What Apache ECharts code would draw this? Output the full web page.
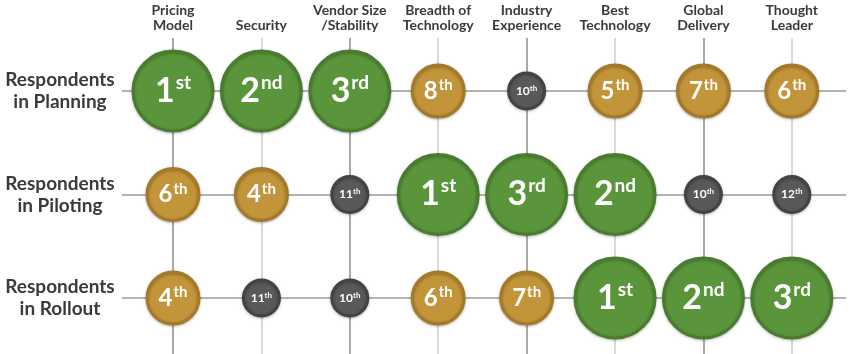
<!DOCTYPE html>
<html>
<head>
<meta charset="utf-8">
<script src="https://cdn.jsdelivr.net/npm/echarts@6/dist/echarts.min.js"></script>
<style>
  html, body { margin: 0; padding: 0; background: #fff; }
  #chart { width: 850px; height: 354px; }
</style>
</head>
<body>
<div id="chart"></div>
<script>
// 列（评价维度）
var columns = ['Pricing\nModel', 'Security', 'Vendor Size\n/Stability', 'Breadth of\nTechnology',
  'Industry\nExperience', 'Best\nTechnology', 'Global\nDelivery', 'Thought\nLeader'];
// 行（受访者阶段）
var rows = ['Respondents\nin Planning', 'Respondents\nin Piloting', 'Respondents\nin Rollout'];
// 各阶段排名
var planningRank = [1, 2, 3, 8, 10, 5, 7, 6];
var pilotingRank = [6, 4, 11, 1, 3, 2, 10, 12];
var rolloutRank = [4, 11, 10, 6, 7, 1, 2, 3];

var ranks = [planningRank, pilotingRank, rolloutRank];

function suffix(n) {
  if (n % 10 === 1 && n !== 11) return 'st';
  if (n % 10 === 2 && n !== 12) return 'nd';
  if (n % 10 === 3 && n !== 13) return 'rd';
  return 'th';
}
function tier(n) {
  if (n <= 3) return 'L';
  if (n <= 9) return 'M';
  return 'S';
}
var sizes = { L: 80, M: 52, S: 36 };
var fills = { L: '#5a953b', M: '#c3953a', S: '#595959' };
var rims = { L: '#497c2f', M: '#a47a28', S: '#434343' };

var data = [];
ranks.forEach(function (r, j) {
  r.forEach(function (v, i) {
    var t = tier(v);
    data.push({
      value: [i, j, v],
      symbolSize: sizes[t],
      itemStyle: {
        color: fills[t], borderColor: rims[t], borderWidth: 3, opacity: 1,
        shadowColor: 'rgba(0,0,0,0.25)', shadowBlur: 3, shadowOffsetY: 1
      }
    });
  });
});

// 网格线
var vLines = columns.map(function (c, i) {
  return { xAxis: i, lineStyle: { color: i % 2 === 0 ? '#8c8c8c' : '#cfcfcf', width: 1.5, type: 'solid' } };
});
var hLines = rows.map(function (r, j) {
  return { yAxis: j, lineStyle: { color: '#9a9a9a', width: 1.5, type: 'solid' } };
});

var font = 'Lato';
var chart = echarts.init(document.getElementById('chart'));
var option = {
  animation: false,
  grid: { left: 122, right: 4, top: 38, bottom: 0 },
  xAxis: {
    type: 'value',
    position: 'top',
    min: -0.577,
    max: 7.613,
    axisLine: { show: false },
    axisTick: { show: false },
    splitLine: { show: false },
    axisLabel: {
      customValues: [0, 1, 2, 3, 4, 5, 6, 7],
      formatter: function (v) { return columns[Math.round(v)]; },
      margin: 5,
      color: '#3a3a3a',
      fontFamily: font,
      fontWeight: 'bold',
      fontSize: 14,
      lineHeight: 15,
      align: 'center',
      verticalAlign: 'bottom'
    }
  },
  yAxis: {
    type: 'value',
    inverse: true,
    min: -0.512,
    max: 2.541,
    axisLine: { show: false },
    axisTick: { show: false },
    splitLine: { show: false },
    axisLabel: {
      customValues: [0, 1, 2],
      formatter: function (v) { return rows[Math.round(v)]; },
      margin: 62,
      align: 'center',
      color: '#3a3a3a',
      fontFamily: font,
      fontWeight: 'bold',
      fontSize: 19,
      lineHeight: 22
    }
  },
  series: [
    {
      type: 'scatter',
      data: data,
      z: 3,
      label: {
        show: true,
        position: 'inside',
        formatter: function (p) {
          var n = p.value[2];
          var t = tier(n);
          return '{n' + t + '|' + n + '}{s' + t + '|' + suffix(n) + '}';
        },
        rich: {
          nL: { color: '#fff', fontFamily: font, fontWeight: 'bold', fontSize: 34, lineHeight: 36 },
          sL: { color: '#fff', fontFamily: font, fontWeight: 'bold', fontSize: 19, verticalAlign: 'top', padding: [0, 0, 10, 1] },
          nM: { color: '#fff', fontFamily: font, fontWeight: 'bold', fontSize: 24, lineHeight: 26 },
          sM: { color: '#fff', fontFamily: font, fontWeight: 'bold', fontSize: 15, verticalAlign: 'top', padding: [0, 0, 7, 1] },
          nS: { color: '#fff', fontFamily: font, fontWeight: 'bold', fontSize: 12, lineHeight: 14 },
          sS: { color: '#fff', fontFamily: font, fontWeight: 'bold', fontSize: 8, verticalAlign: 'top', padding: [0, 0, 4, 0] }
        }
      },
      markLine: {
        silent: true,
        symbol: 'none',
        label: { show: false },
        z: 1,
        data: vLines.concat(hLines)
      }
    }
  ]
};
chart.setOption(option);
</script>
</body>
</html>
